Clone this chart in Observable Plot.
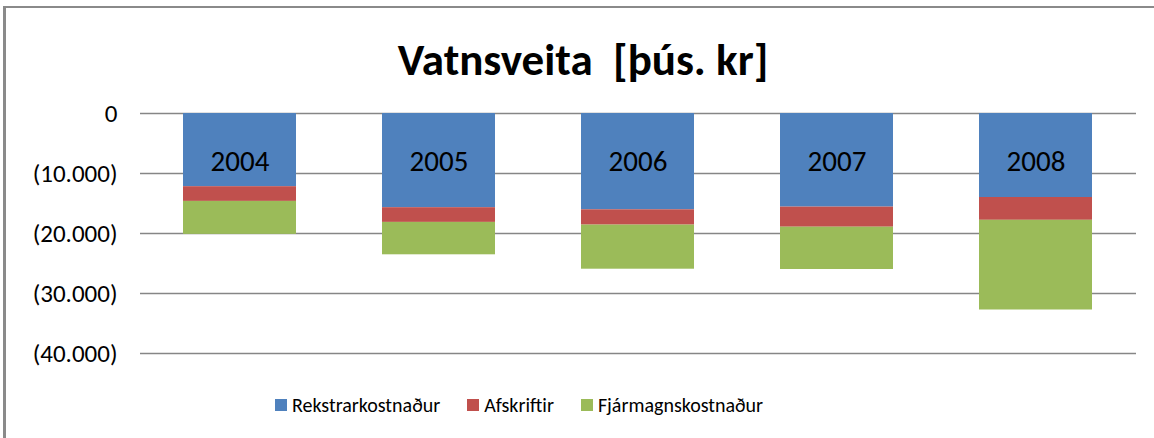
<!DOCTYPE html>
<html>
<head>
<meta charset="utf-8">
<script src="https://cdn.jsdelivr.net/npm/d3@7"></script>
<script src="https://cdn.jsdelivr.net/npm/@observablehq/plot@0.6"></script>
<style>
  html, body { margin: 0; padding: 0; background: #fff; }
  #wrap { position: relative; width: 1154px; height: 438px; overflow: hidden; font-family: Carlito, Lato, "Open Sans", sans-serif; }
  #frame { position: absolute; z-index: 5; pointer-events: none; left: 3px; top: 6px; width: 1300px; height: 600px; border-top: 2px solid #8a8a8a; border-left: 3px solid #8a8a8a; }
  #title { position: absolute; left: 0; width: 1166px; top: 37px; text-align: center; font-size: 45px; font-weight: bold; line-height: 45px; color: #000; white-space: pre; }
  #chart { position: absolute; left: 0; top: 93px; }
  #legend { position: absolute; left: 275px; top: 393px; display: flex; align-items: center; font-size: 20px; color: #000; line-height: 24px; }
  .item { display: flex; align-items: center; margin-right: 27px; }
  .sw { width: 12px; height: 12px; margin-right: 5px; }
</style>
</head>
<body>
<div id="wrap">
  <div id="frame"></div>
  <div id="title"></div>
  <div id="chart"></div>
  <div id="legend"></div>
</div>
<script>
const titleText = "Vatnsveita  [þús. kr]";
const years = ["2004", "2005", "2006", "2007", "2008"];
const seriesNames = ["Rekstrarkostnaður", "Afskriftir", "Fjármagnskostnaður"];
const seriesColors = ["#4F81BD", "#C0504D", "#9BBB59"];
const rekstrarkostnadur = [-12200, -15700, -16050, -15600, -14000];
const afskriftir = [-2450, -2450, -2550, -3350, -3800];
const fjarmagnskostnadur = [-5500, -5400, -7350, -7050, -14950];
const yTicks = [0, -10000, -20000, -30000, -40000];

const seriesValues = [rekstrarkostnadur, afskriftir, fjarmagnskostnadur];
const data = [];
seriesNames.forEach((s, i) => years.forEach((y, j) => data.push({year: y, series: s, value: seriesValues[i][j]})));

const fmt = d => d === 0 ? "0" : "(" + d3.format(",")(-d).replace(/,/g, ".") + ")";

document.getElementById("title").textContent = titleText;

const plot = Plot.plot({
  width: 1154,
  height: 282,
  marginTop: 20,
  marginBottom: 22,
  marginLeft: 140,
  marginRight: 18,
  style: {fontFamily: "Carlito, Lato, 'Open Sans', sans-serif", background: "transparent", color: "#000"},
  x: {domain: years, paddingInner: 0.43, paddingOuter: 0.215, axis: null},
  y: {domain: [-40000, 0], ticks: yTicks, tickFormat: fmt},
  color: {domain: seriesNames, range: seriesColors},
  marks: [
    Plot.ruleY(yTicks, {stroke: "#868686", strokeWidth: 1.5}),
    Plot.axisY({ticks: yTicks, tickFormat: fmt, tickSize: 0, tickPadding: 23, fontSize: 25, label: null}),
    Plot.barY(data, {x: "year", y: "value", fill: "series", order: seriesNames}),
    Plot.text(years, {x: d => d, frameAnchor: "top", dy: 48, fontSize: 29, fill: "#000", lineAnchor: "middle"})
  ]
});
document.getElementById("chart").appendChild(plot);

const legend = document.getElementById("legend");
seriesNames.forEach((s, i) => {
  const it = document.createElement("div");
  it.className = "item";
  const sw = document.createElement("div");
  sw.className = "sw";
  sw.style.background = seriesColors[i];
  const tx = document.createElement("span");
  tx.textContent = s;
  it.appendChild(sw); it.appendChild(tx);
  legend.appendChild(it);
});
</script>
</body>
</html>
